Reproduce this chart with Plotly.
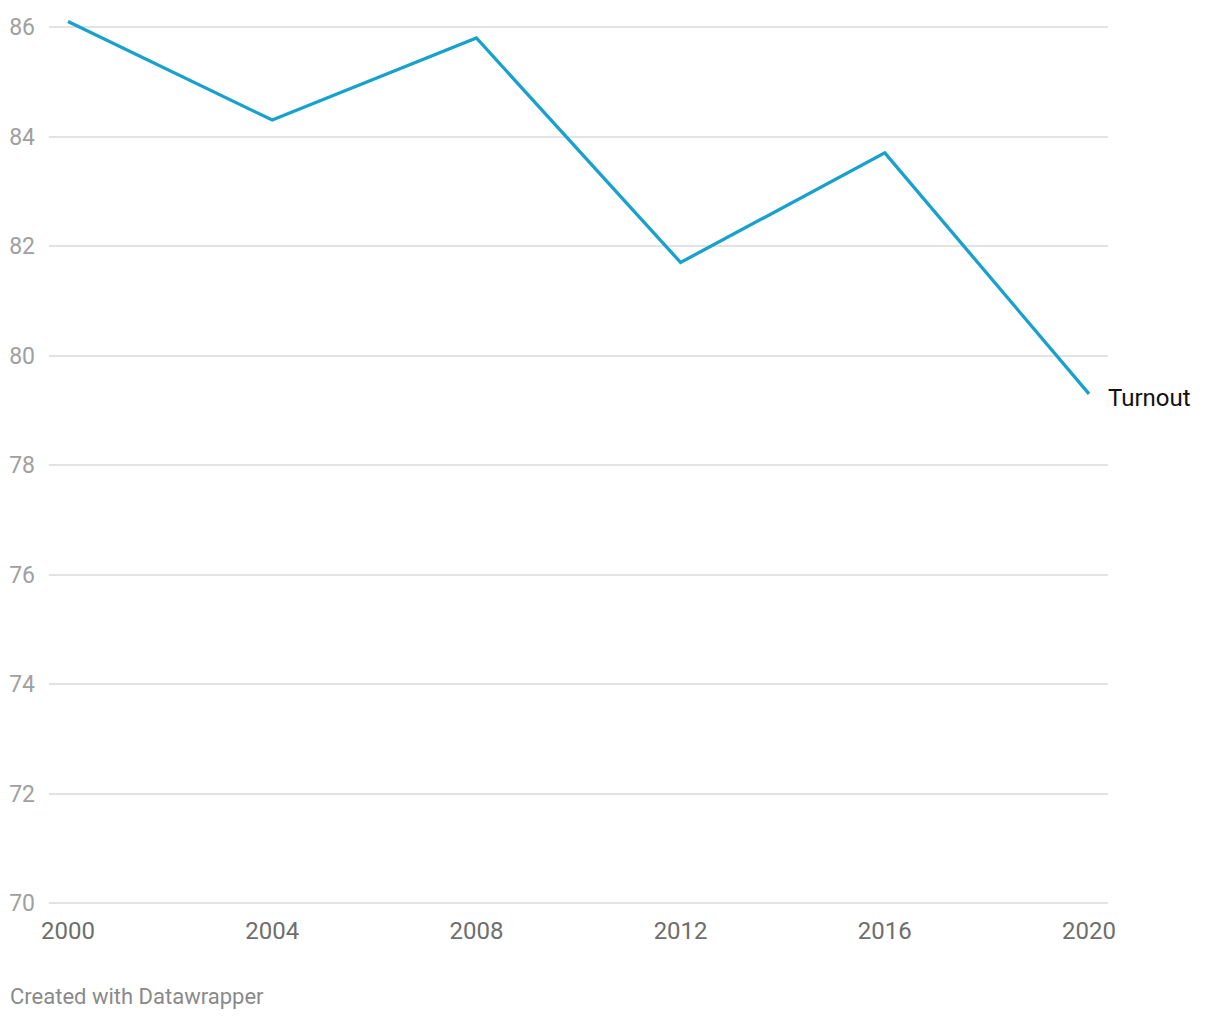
import plotly.graph_objects as go

years = [2000, 2004, 2008, 2012, 2016, 2020]
turnout = [86.1, 84.3, 85.8, 81.7, 83.7, 79.3]
series_name = "Turnout"
y_ticks = [70, 72, 74, 76, 78, 80, 82, 84, 86]

PX_PER_UNIT = 54.75
fig = go.Figure()
fig.add_trace(go.Scatter(
    x=years, y=turnout, mode="lines", name=series_name,
    line=dict(color="#18a1cd", width=3.3), hoverinfo="skip", showlegend=False,
))
fig.add_annotation(
    x=years[-1], y=turnout[-1], text=series_name, showarrow=False,
    xanchor="left", yanchor="middle", xshift=17, yshift=-4,
    font=dict(family="Roboto", size=24, color="#111111"),
)
fig.add_annotation(
    xref="paper", yref="paper", x=-41/1059, y=-91/895, text="Created with Datawrapper",
    showarrow=False, xanchor="left", yanchor="middle",
    font=dict(family="Roboto", size=22, color="#8a8a8a"),
)

fig.update_layout(
    width=1220, height=1020,
    margin=dict(l=49, r=112, t=10, b=115),
    paper_bgcolor="white", plot_bgcolor="white",
    font=dict(family="Roboto"),
    xaxis=dict(
        range=[2000 - 19/51.05, 2020 + 19/51.05],
        tickvals=years, ticktext=[str(y) for y in years],
        showgrid=False, zeroline=False, showline=False,
        ticks="", tickfont=dict(size=24, color="#6e6e6e"),
        ticklabelstandoff=9,
    ),
    yaxis=dict(
        range=[70 - 2/PX_PER_UNIT, 86 + 17/PX_PER_UNIT],
        tickvals=y_ticks, ticktext=[str(v) for v in y_ticks],
        showgrid=True, gridcolor="#e3e3e3", gridwidth=1.5,
        zeroline=False, showline=False, ticks="",
        tickfont=dict(size=23, color="#a0a0a0"),
        ticklabelstandoff=13,
    ),
)
fig.write_html("out.html")
